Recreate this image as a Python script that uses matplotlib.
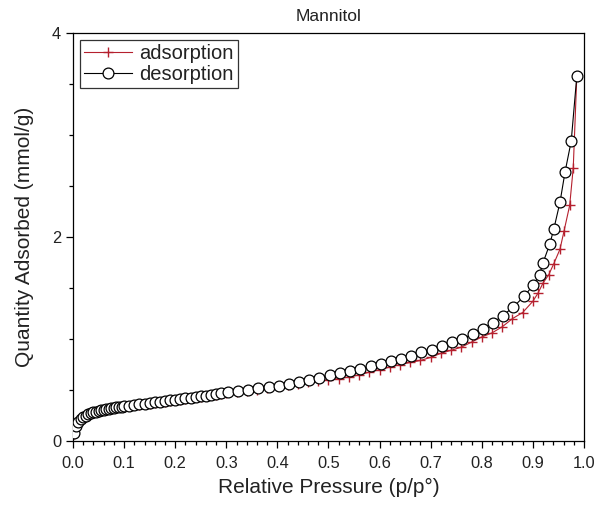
import matplotlib
matplotlib.use("Agg")
import matplotlib.pyplot as plt
from matplotlib.ticker import MultipleLocator

plt.rcParams['font.family'] = ['Liberation Sans', 'DejaVu Sans']

# desorption branch (p/p0, mmol/g)
p_des = [0.001, 0.005, 0.01, 0.015, 0.02, 0.025, 0.03, 0.035, 0.04, 0.045,
         0.05, 0.055, 0.06, 0.065, 0.07, 0.075, 0.08, 0.085, 0.09, 0.095,
         0.10, 0.11, 0.12, 0.13, 0.14, 0.15, 0.16, 0.17, 0.18, 0.19,
         0.20, 0.21, 0.22, 0.23, 0.24, 0.25, 0.26, 0.27, 0.28, 0.29,
         0.304, 0.323, 0.342, 0.362, 0.383, 0.403, 0.423, 0.443, 0.462, 0.482,
         0.502, 0.522, 0.542, 0.562, 0.583, 0.603, 0.622, 0.642, 0.661, 0.681,
         0.703, 0.722, 0.742, 0.761, 0.783, 0.802, 0.822, 0.841, 0.861, 0.883,
         0.901, 0.913, 0.920, 0.933, 0.941, 0.953, 0.963, 0.975, 0.986]
q_des = [0.08, 0.15, 0.19, 0.215, 0.235, 0.25, 0.262, 0.272, 0.28, 0.288,
         0.295, 0.301, 0.307, 0.312, 0.317, 0.322, 0.326, 0.330, 0.334, 0.338,
         0.342, 0.348, 0.354, 0.360, 0.365, 0.370, 0.378, 0.385, 0.392, 0.399,
         0.405, 0.412, 0.418, 0.425, 0.432, 0.438, 0.445, 0.452, 0.459, 0.466,
         0.48, 0.49, 0.50, 0.52, 0.53, 0.54, 0.56, 0.58, 0.60, 0.62,
         0.65, 0.67, 0.69, 0.71, 0.735, 0.76, 0.78, 0.80, 0.83, 0.87,
         0.89, 0.93, 0.97, 1.00, 1.05, 1.10, 1.16, 1.23, 1.31, 1.42,
         1.53, 1.63, 1.75, 1.93, 2.08, 2.34, 2.64, 2.94, 3.58]

# adsorption branch
p_ads = [0.001, 0.005, 0.01, 0.015, 0.02, 0.025, 0.03, 0.035, 0.04, 0.045,
         0.05, 0.055, 0.06, 0.065, 0.07, 0.075, 0.08, 0.085, 0.09, 0.095,
         0.10, 0.11, 0.12, 0.13, 0.14, 0.15, 0.16, 0.17, 0.18, 0.19,
         0.20, 0.21, 0.22, 0.23, 0.24, 0.25, 0.26, 0.27, 0.28, 0.29,
         0.30, 0.32, 0.34, 0.36, 0.38, 0.40, 0.42, 0.44, 0.46, 0.48,
         0.50, 0.52, 0.54, 0.56, 0.58, 0.60, 0.62, 0.64, 0.66, 0.68,
         0.70, 0.72, 0.74, 0.76, 0.78, 0.80, 0.82, 0.84, 0.86, 0.88,
         0.90, 0.91, 0.92, 0.931, 0.941, 0.953, 0.961, 0.972, 0.979, 0.986]
q_ads = [0.07, 0.14, 0.185, 0.21, 0.23, 0.245, 0.257, 0.268, 0.276, 0.284,
         0.291, 0.297, 0.303, 0.308, 0.313, 0.318, 0.322, 0.326, 0.330, 0.334,
         0.338, 0.344, 0.350, 0.356, 0.361, 0.366, 0.373, 0.380, 0.387, 0.394,
         0.400, 0.407, 0.413, 0.420, 0.427, 0.433, 0.440, 0.447, 0.454, 0.461,
         0.468, 0.48, 0.49, 0.505, 0.52, 0.535, 0.55, 0.56, 0.575, 0.588,
         0.60, 0.612, 0.628, 0.648, 0.675, 0.70, 0.725, 0.75, 0.77, 0.79,
         0.82, 0.86, 0.89, 0.92, 0.97, 1.02, 1.06, 1.12, 1.20, 1.26,
         1.37, 1.45, 1.55, 1.63, 1.74, 1.88, 2.06, 2.31, 2.68, 3.58]

red = '#b5202e'
txt = '#222222'

fig = plt.figure(figsize=(5.97, 5.16), dpi=100)
ax = fig.add_axes([0.1223, 0.1453, 0.8559, 0.7907])

ax.plot(p_ads, q_ads, color=red, lw=0.8, marker='+', ms=7, mew=1.0,
        label='adsorption', zorder=2)
ax.plot(p_des, q_des, color='black', lw=0.8, marker='o', ms=7.8, mew=0.9,
        mfc='white', mec='black', label='desorption', zorder=3)

ax.set_xlim(0, 1.0)
ax.set_ylim(0, 4)
ax.xaxis.set_major_locator(MultipleLocator(0.1))
ax.xaxis.set_minor_locator(MultipleLocator(0.02))
ax.yaxis.set_major_locator(MultipleLocator(2))
ax.yaxis.set_minor_locator(MultipleLocator(0.5))
ax.xaxis.set_major_formatter(plt.FormatStrFormatter('%.1f'))

ax.tick_params(which='both', direction='out', top=False, right=False,
               labelsize=11.8, labelcolor=txt, width=0.9)
ax.tick_params(which='major', length=5)
ax.tick_params(which='minor', length=3)
ax.tick_params(axis='x', pad=6)
for s in ax.spines.values():
    s.set_linewidth(0.9)

ax.set_xlabel('Relative Pressure (p/p°)', fontsize=15, color=txt, labelpad=5)
ax.set_ylabel('Quantity Adsorbed (mmol/g)', fontsize=15, color=txt, labelpad=13)
ax.set_title('Mannitol', fontsize=12.5, color=txt, pad=9)

leg = ax.legend(loc='upper left', fontsize=14.5, frameon=True, fancybox=False,
                edgecolor='black', handlelength=2.4, handletextpad=0.35,
                borderpad=0.2, labelspacing=0.1, borderaxespad=0.35)
leg.get_frame().set_linewidth(0.9)
for t in leg.get_texts():
    t.set_color(txt)

fig.savefig('out.png', dpi=100)
